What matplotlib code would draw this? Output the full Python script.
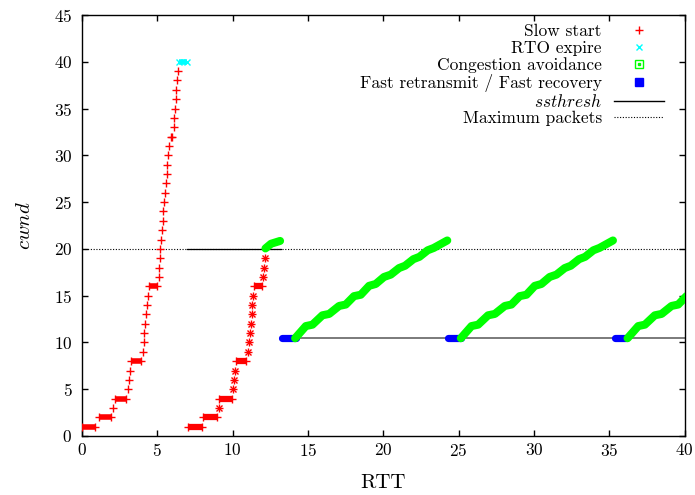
import matplotlib
matplotlib.use('Agg')
import matplotlib.pyplot as plt
from matplotlib.lines import Line2D

plt.rcParams['font.family'] = 'cmr10'
plt.rcParams['mathtext.fontset'] = 'cm'
plt.rcParams['axes.formatter.use_mathtext'] = True

# slow start after start-up ('+' markers): dense bands (t_start, t_end, cwnd)
ss1_band_t0 = [0.0, 1.13, 2.16, 3.25, 4.48, 5.88]
ss1_band_t1 = [0.86, 1.92, 2.95, 3.95, 4.98, 6.0]
ss1_band_c = [1, 2, 4, 8, 16, 32]
# single slow start points
ss1_t = [2.06, 3.07, 3.12, 3.17,
         4.05, 4.09, 4.13, 4.18, 4.22, 4.29, 4.36,
         5.09, 5.13, 5.18, 5.20, 5.24, 5.31, 5.35, 5.38, 5.42, 5.49, 5.56, 5.62, 5.67, 5.72, 5.77,
         6.08, 6.12, 6.17, 6.21, 6.26, 6.30, 6.35]
ss1_c = [3, 5, 6, 7,
         9, 10, 11, 12, 13, 14, 15,
         17, 18, 19, 20, 21, 22, 23, 24, 25, 26, 27, 28, 29, 30, 31,
         33, 34, 35, 36, 37, 38, 39]

# RTO expire band
rto_t0, rto_t1, rto_c = 6.42, 7.0, 40

# slow start after RTO (asterisk markers)
ss2_band_t0 = [7.07, 8.06, 9.12, 10.22, 11.41]
ss2_band_t1 = [7.96, 8.96, 9.95, 10.92, 11.94]
ss2_band_c = [1, 2, 4, 8, 16]
ss2_t = [9.07, 10.04, 10.10, 10.15,
         11.02, 11.08, 11.15, 11.21, 11.26, 11.30, 11.35,
         12.03, 12.08, 12.12]
ss2_c = [3, 5, 6, 7,
         9, 10, 11, 12, 13, 14, 15,
         17, 18, 19]

# congestion avoidance, first short piece
ca1_t = [12.18, 12.55, 13.15]
ca1_c = [20.05, 20.55, 20.85]
# staircase shape of the long ramps (time offset, cwnd)
ramp_dt = [0.0, 0.71, 1.15, 1.81, 2.26, 2.92, 3.36, 3.91, 4.36, 4.91, 5.35, 5.9,
           6.35, 6.9, 7.3, 7.85, 8.25, 8.8, 9.2, 10.1]
ramp_c = [10.45, 11.75, 11.9, 12.9, 13.05, 13.9, 14.05, 14.95, 15.1, 16.05,
          16.25, 17.0, 17.25, 17.95, 18.2, 18.9, 19.15, 19.85, 20.1, 20.9]
ramp_start = [14.15, 25.15, 36.22]

# fast retransmit / fast recovery bands
fr_t0 = [13.26, 24.32, 35.37]
fr_t1 = [14.2, 25.18, 36.13]
fr_c = 10.45

# ssthresh steps
ssth_t0 = [7.0, 13.26]
ssth_t1 = [13.2, 40.0]
ssth_c = [20, 10.45]
max_packets = 20

red = '#ff0000'
cyan = '#00ffff'
green = '#00ff00'
blue = '#0000ff'

fig = plt.figure(figsize=(6.95, 4.95), dpi=100)
ax = fig.add_axes([82/695, 59/495, 602.5/695, 421/495])

# reference lines
ax.axhline(max_packets, color='black', lw=0.8, ls=(0, (1, 1.5)), zorder=1)
ax.plot([ssth_t0[0], ssth_t1[0]], [ssth_c[0]] * 2, color='black', lw=0.9, zorder=1.5)
ax.plot([ssth_t0[1], ssth_t1[1]], [ssth_c[1]] * 2, color='#7a7a7a', lw=1.4, zorder=1.5)

# slow start 1
for a, b, c in zip(ss1_band_t0, ss1_band_t1, ss1_band_c):
    ax.plot([a, b], [c, c], color=red, lw=4, solid_capstyle='butt', zorder=3)
    ax.plot([a, b], [c, c], color=red, marker='+', ls='none', ms=6, mew=1, zorder=3)
ax.plot(ss1_t, ss1_c, color=red, marker='+', ls='none', ms=6, mew=1, zorder=3)

# RTO
ax.plot([rto_t0, rto_t1], [rto_c, rto_c], color=cyan, lw=4, solid_capstyle='butt', zorder=3)
ax.plot([rto_t0, rto_t1], [rto_c, rto_c], color=cyan, marker='x', ls='none', ms=5, mew=1, zorder=3)

# slow start 2
for a, b, c in zip(ss2_band_t0, ss2_band_t1, ss2_band_c):
    ax.plot([a, b], [c, c], color=red, lw=4.5, solid_capstyle='butt', zorder=3)
    ax.plot([a, b], [c, c], color=red, marker='+', ls='none', ms=6, mew=1, zorder=3)
ax.plot(ss2_t, ss2_c, color=red, marker='+', ls='none', ms=6, mew=1, zorder=3)
ax.plot(ss2_t, ss2_c, color=red, marker='x', ls='none', ms=4.5, mew=1, zorder=3)

# congestion avoidance
ax.plot(ca1_t, ca1_c, color=green, lw=5.8, solid_capstyle='round',
        solid_joinstyle='round', zorder=4)
for s in ramp_start:
    ax.plot([s + d for d in ramp_dt], ramp_c, color=green, lw=5.8,
            solid_capstyle='round', solid_joinstyle='round', zorder=4)

# fast retransmit
for a, b in zip(fr_t0, fr_t1):
    ax.plot([a, b], [fr_c, fr_c], color=blue, lw=5.2, solid_capstyle='round', zorder=3.5)

ax.set_xlim(0, 40)
ax.set_ylim(0, 45)
ax.set_xticks(range(0, 41, 5))
ax.set_yticks(range(0, 46, 5))
ax.tick_params(direction='in', length=4.5, width=1, top=True, right=True,
               labelsize=12.5)
ax.tick_params(axis='x', pad=4)
ax.tick_params(axis='y', pad=7)
for sp in ax.spines.values():
    sp.set_linewidth(1)

ax.set_xlabel('RTT', fontsize=15, labelpad=11)
ax.set_ylabel('$cwnd$', fontsize=15, labelpad=14)

h_ss = Line2D([], [], color=red, marker='+', ls='none', ms=6, mew=1)
h_rto = Line2D([], [], color=cyan, marker='x', ls='none', ms=5, mew=1)
h_ca = (Line2D([], [], color=green, marker='s', mfc='none', ls='none', ms=6, mew=1),
        Line2D([], [], color=green, marker='s', ls='none', ms=1.5))
h_fr = Line2D([], [], color=blue, marker='s', ls='none', ms=6)
h_sst = Line2D([], [], color='black', lw=1)
h_max = Line2D([], [], color='black', lw=0.8, ls=(0, (1, 1.5)))
ax.legend([h_ss, h_rto, h_ca, h_fr, h_sst, h_max],
          ['Slow start', 'RTO expire', 'Congestion avoidance',
           'Fast retransmit / Fast recovery', '$ssthresh$', 'Maximum packets'],
          loc='upper right', bbox_to_anchor=(0.978, 0.995), borderaxespad=0,
          frameon=False, markerfirst=False,
          prop={'family': 'cmr10', 'size': 12.5}, handlelength=2.9,
          handletextpad=0.7, labelspacing=0.06)

fig.savefig('out.png', dpi=100)
